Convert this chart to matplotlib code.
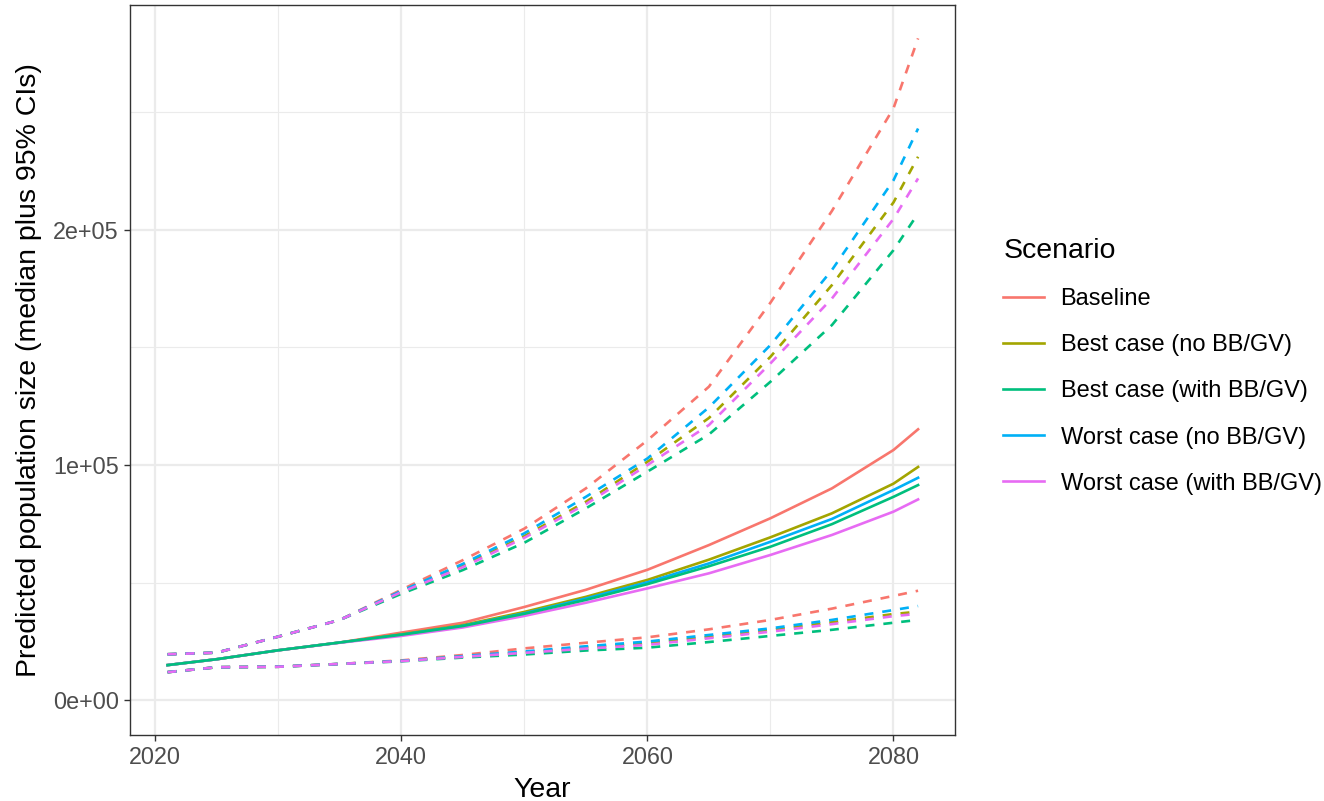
import matplotlib
matplotlib.use("Agg")
import matplotlib.pyplot as plt
import matplotlib.ticker as mticker
from matplotlib.lines import Line2D

plt.rcParams["font.family"] = ["Liberation Sans", "DejaVu Sans"]

# values (population, thousands)
years = [2021, 2025, 2030, 2035, 2040, 2045, 2050, 2055, 2060, 2065, 2070, 2075, 2080, 2082]

scenarios = [
    "Baseline",
    "Best case (no BB/GV)",
    "Best case (with BB/GV)",
    "Worst case (no BB/GV)",
    "Worst case (with BB/GV)",
]
colors = ["#F8766D", "#A3A500", "#00BF7D", "#00B0F6", "#E76BF3"]

baseline_med = [15.0, 17.5, 21.3, 24.6, 28.8, 33.0, 39.7, 47.0, 55.5, 66.0, 77.4, 90.1, 106.4, 115.2]
best_no_med = [15.0, 17.5, 21.3, 24.6, 28.1, 32.0, 37.6, 44.0, 51.2, 59.8, 69.3, 79.5, 92.1, 99.2]
best_with_med = [15.0, 17.5, 21.3, 24.6, 27.9, 31.6, 36.8, 42.7, 49.4, 57.0, 65.3, 74.9, 86.5, 91.5]
worst_no_med = [15.0, 17.5, 21.3, 24.6, 27.9, 31.7, 37.0, 43.3, 50.2, 58.2, 67.4, 77.1, 89.4, 94.6]
worst_with_med = [15.0, 17.5, 21.3, 24.5, 27.4, 31.0, 35.9, 41.5, 47.6, 54.0, 61.8, 70.3, 80.2, 85.4]

baseline_hi = [19.6, 20.3, 27.1, 34.2, 47.0, 59.6, 73.0, 90.1, 110.5, 133.3, 169.0, 208.0, 251.6, 281.3]
best_no_hi = [19.6, 20.3, 27.1, 34.2, 46.2, 57.2, 69.8, 84.4, 101.4, 120.0, 146.0, 176.5, 211.6, 231.0]
best_with_hi = [19.6, 20.3, 27.1, 34.2, 45.3, 55.4, 67.0, 81.6, 97.2, 113.0, 135.4, 159.5, 191.3, 206.9]
worst_no_hi = [19.6, 20.3, 27.1, 34.2, 46.5, 58.0, 71.0, 86.5, 102.8, 124.5, 151.0, 182.9, 221.0, 243.0]
worst_with_hi = [19.6, 20.3, 27.1, 34.2, 46.0, 56.6, 69.1, 83.4, 100.0, 117.0, 143.2, 170.8, 204.6, 221.8]

baseline_lo = [12.0, 14.1, 14.3, 15.5, 17.0, 19.3, 22.1, 24.5, 26.8, 30.2, 34.2, 39.0, 44.4, 46.6]
best_no_lo = [12.0, 14.1, 14.3, 15.5, 16.8, 18.6, 20.5, 22.5, 24.4, 27.0, 29.9, 33.2, 36.7, 37.7]
best_with_lo = [12.0, 14.1, 14.3, 15.5, 16.6, 18.2, 19.5, 21.2, 22.4, 24.8, 27.4, 30.0, 33.0, 34.2]
worst_no_lo = [12.0, 14.1, 14.3, 15.5, 16.8, 18.8, 20.8, 23.0, 25.0, 27.8, 30.6, 34.2, 38.4, 40.1]
worst_with_lo = [12.0, 14.1, 14.3, 15.5, 16.7, 18.5, 20.2, 22.0, 23.6, 26.4, 29.2, 32.4, 35.8, 36.8]

medians = [baseline_med, best_no_med, best_with_med, worst_no_med, worst_with_med]
uppers = [baseline_hi, best_no_hi, best_with_hi, worst_no_hi, worst_with_hi]
lowers = [baseline_lo, best_no_lo, best_with_lo, worst_no_lo, worst_with_lo]


def _sci_label(value, _pos=None):
    if value == 0:
        return "0e+00"
    exp = len(str(int(abs(value)))) - 1
    mant = value / 10 ** exp
    return f"{mant:.0f}e+{exp:02d}"


fig = plt.figure(figsize=(13.24, 8.01), dpi=100)
ax = fig.add_axes([0.0982, 0.0824, 0.6231, 0.9114])

lw = 1.9
for upper, lower, color in zip(uppers, lowers, colors):
    ax.plot(years, [v * 1000 for v in upper], color=color, lw=lw, dashes=(3.4, 3.4), zorder=3)
    ax.plot(years, [v * 1000 for v in lower], color=color, lw=lw, dashes=(3.4, 3.4), zorder=3)

# green median ends up on top of the shared early section in the reference
for idx in [0, 1, 3, 4, 2]:
    ax.plot(years, [v * 1000 for v in medians[idx]], color=colors[idx], lw=lw, zorder=4)

ax.set_xlim(2017.95, 2085.0)
ax.set_ylim(-14700, 295500)

ax.xaxis.set_major_locator(mticker.FixedLocator([2020, 2040, 2060, 2080]))
ax.xaxis.set_minor_locator(mticker.FixedLocator([2030, 2050, 2070]))
ax.yaxis.set_major_locator(mticker.FixedLocator([0, 100000, 200000]))
ax.yaxis.set_minor_locator(mticker.FixedLocator([50000, 150000, 250000]))
ax.yaxis.set_major_formatter(mticker.FuncFormatter(_sci_label))

ax.grid(which="major", color="#EBEBEB", lw=1.6, zorder=0)
ax.grid(which="minor", color="#EBEBEB", lw=0.8, zorder=0)
ax.set_axisbelow(True)

for spine in ax.spines.values():
    spine.set_color("#333333")
    spine.set_linewidth(1.0)

ax.tick_params(which="major", length=4, width=1.0, color="#333333",
               labelcolor="#4D4D4D", labelsize=16.8, pad=4)
ax.tick_params(which="minor", length=0)

ax.set_xlabel("Year", fontsize=20.5, labelpad=6)
ax.set_ylabel("Predicted population size (median plus 95% CIs)", fontsize=20.5, labelpad=8)

handles = [Line2D([], [], color=c, lw=lw) for c in colors]
fig.legend(
    handles,
    scenarios,
    title="Scenario",
    loc="center left",
    bbox_to_anchor=(0.749, 0.5425),
    frameon=False,
    fontsize=17,
    title_fontsize=20.5,
    handlelength=1.7,
    handletextpad=0.72,
    labelspacing=1.02,
    alignment="left",
    borderpad=0,
)

fig.savefig("out.png", dpi=100)
